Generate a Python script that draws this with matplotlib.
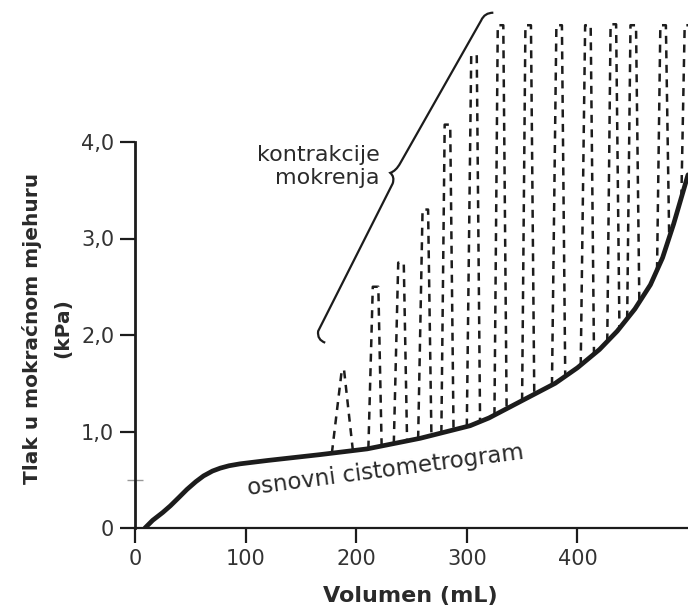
import numpy as np
import matplotlib
matplotlib.use("Agg")
import matplotlib.pyplot as plt
from matplotlib.path import Path
from matplotlib.patches import PathPatch

plt.rcParams['font.family'] = ['DejaVu Sans']

# ---- data ----
base_volume = [9, 16, 25, 32, 40, 47, 55, 62, 70, 77, 85, 95, 120, 167, 210,
               258, 303, 320, 340, 360, 380, 400, 420, 436, 452, 466, 477,
               487, 500]
base_pressure = [0.0, 0.08, 0.16, 0.23, 0.32, 0.40, 0.48, 0.54, 0.59, 0.62,
                 0.645, 0.665, 0.70, 0.76, 0.82, 0.93, 1.06, 1.14, 1.26,
                 1.38, 1.50, 1.66, 1.85, 2.04, 2.27, 2.52, 2.80, 3.15, 3.66]

spike_start = [178, 211, 234, 256, 277, 300, 325, 350, 377, 403, 427, 445, 472, 494]
spike_top_left = [187, 215, 238, 260, 280, 304, 328, 353, 381, 407, 430, 448, 475, 497]
spike_top_right = [189, 220, 243, 265, 285, 309, 333, 358, 386, 412, 435, 453, 480, 502]
spike_end = [197, 223, 246, 268, 288, 312, 336, 361, 389, 415, 438, 456, 483, 505]
spike_peak = [1.64, 2.50, 2.75, 3.30, 4.18, 4.90, 5.21, 5.21, 5.21, 5.21,
              5.22, 5.21, 5.21, 5.21]

x_ticks = [0, 100, 200, 300, 400]
x_tick_labels = ["0", "100", "200", "300", "400"]
y_ticks = [0, 1, 2, 3, 4]
y_tick_labels = ["0", "1,0", "2,0", "3,0", "4,0"]

ink = '#1c1c1c'

fig = plt.figure(figsize=(6.88, 6.13), dpi=100)
ax = fig.add_axes([135 / 688, 85 / 613, 553 / 688, 5.4 * 96.5 / 613])
ax.set_xlim(0, 500)
ax.set_ylim(0, 5.4)

# spikes (voiding contractions)
for s, tl, tr, e, pp in zip(spike_start, spike_top_left, spike_top_right,
                            spike_end, spike_peak):
    ys = np.interp(s, base_volume, base_pressure)
    ye = np.interp(e, base_volume, base_pressure)
    ax.plot([s, tl, tr, e], [ys, pp, pp, ye], color=ink, lw=1.8,
            dashes=(3.2, 2.6), dash_capstyle='butt', dash_joinstyle='round',
            zorder=2)

# baseline cystometrogram
ax.plot(base_volume, base_pressure, color=ink, lw=3.4, zorder=3,
        solid_capstyle='round', solid_joinstyle='round')

# brace for "kontrakcije mokrenja"
verts = [(172, 1.92), (164.5, 1.95), (165.6, 2.04), (233, 3.57),
         (235, 3.64), (230.8, 3.68), (236, 3.70), (239.8, 3.78),
         (313, 5.26), (316, 5.34), (324, 5.34)]
codes = [Path.MOVETO, Path.CURVE3, Path.CURVE3, Path.LINETO,
         Path.CURVE3, Path.CURVE3, Path.CURVE3, Path.CURVE3,
         Path.LINETO, Path.CURVE3, Path.CURVE3]
ax.add_patch(PathPatch(Path(verts, codes), fill=False, lw=1.6,
                       edgecolor=ink, clip_on=False, zorder=4))

ax.text(221.5, 3.75, "kontrakcije\nmokrenja", ha='right', va='center',
        multialignment='right', fontsize=16, color='#2a2a2a')
ax.text(227, 0.60, "osnovni cistometrogram", ha='center', va='center',
        rotation=7.5, rotation_mode='anchor', fontsize=16.5, color='#2a2a2a')

# axes styling
for side in ['top', 'right']:
    ax.spines[side].set_visible(False)
ax.spines['left'].set_bounds(0, 4)
ax.spines['left'].set_linewidth(2.0)
ax.spines['bottom'].set_linewidth(1.6)
ax.spines['left'].set_color(ink)
ax.spines['bottom'].set_color(ink)

ax.set_xticks(x_ticks)
ax.set_xticklabels(x_tick_labels)
ax.set_yticks(y_ticks)
ax.set_yticklabels(y_tick_labels)
ax.set_yticks([0.5], minor=True)
ax.tick_params(axis='both', which='major', length=11, width=1.6,
               color=ink, labelsize=15, labelcolor='#333333', pad=4)
ax.tick_params(axis='y', which='minor', direction='inout', length=12,
               width=1.0, color='#999999')

ax.set_xlabel("Volumen (mL)", fontsize=16, fontweight='bold',
              color='#2a2a2a')
ax.xaxis.set_label_coords((410 - 135) / 553, (528 - 586) / 521.1)
ax.set_ylabel("Tlak u mokraćnom mjehuru\n(kPa)", fontsize=14.5,
              fontweight='bold', color='#2a2a2a', linespacing=1.75)
ax.yaxis.set_label_coords(-(135 - 72) / 553, 200 / 521.1)

fig.savefig("out.png", dpi=100, facecolor='white')
